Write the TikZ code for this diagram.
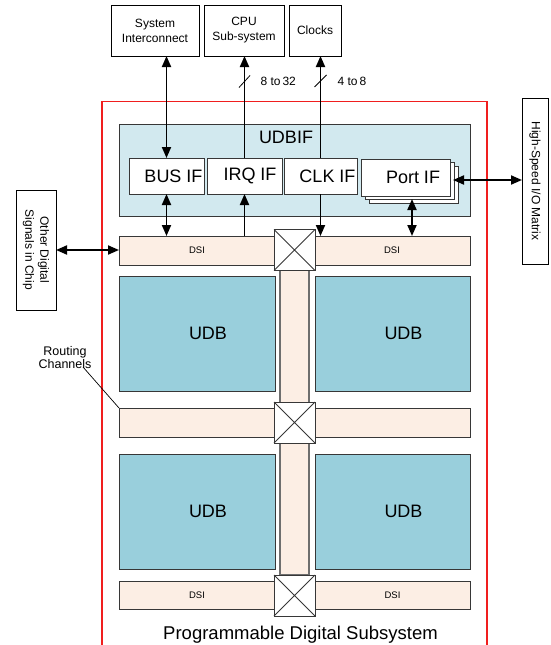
\documentclass[tikz,border=0pt]{standalone}
\usepackage{fontspec}
\setmainfont{Liberation Sans}
\usetikzlibrary{arrows.meta,calc}
\definecolor{udbifblue}{RGB}{210,233,239}
\definecolor{udbblue}{RGB}{153,207,220}
\definecolor{peach}{RGB}{252,238,228}
\definecolor{edgegray}{RGB}{55,55,55}
\definecolor{chanedge}{RGB}{110,110,110}
\definecolor{frame}{RGB}{240,30,30}
\begin{document}
\begin{tikzpicture}[x=1pt,y=-1pt,
  box/.style={draw=edgegray,line width=1pt,fill=white,rectangle,inner sep=0pt,outer sep=0pt},
  extbox/.style={box,draw=black},
  small/.style={font=\fontsize{12}{15}\selectfont,align=center},
  big/.style={font=\fontsize{18}{20}\selectfont},
  ifbox/.style={box,big},
  udbbox/.style={box,fill=udbblue,big},
  dsibar/.style={box,fill=peach,font=\fontsize{9.5}{11}\selectfont},
  xbox/.style={box,minimum width=41pt,minimum height=41pt},
  arr/.style={line width=1.9pt,-{Triangle[length=11pt,width=9pt]}},
  darr/.style={line width=1.9pt,{Triangle[length=11pt,width=9pt]}-{Triangle[length=11pt,width=9pt]}}
]
\useasboundingbox (0,0) rectangle (550,645);

% red frame
\draw[frame,line width=1.2pt] (102,645) -- (102,101.5) -- (487,101.5) -- (487,645);

% top external boxes
\node[extbox,small,minimum width=88pt,minimum height=51pt] (sysint) at (155,30.5) {System\\Interconnect};
\node[extbox,small,minimum width=80pt,minimum height=51pt] (cpu) at (244,30.5) {CPU\\Sub-system};
\node[extbox,small,minimum width=52pt,minimum height=51pt] (clocks) at (315,30.5) {Clocks};

% side external boxes
\node[extbox,minimum width=40pt,minimum height=120pt] (other) at (36,250) {};
\node[small,rotate=-90] (othertxt) at (other.center) {Other Digital\\Signals in Chip};
\node[extbox,minimum width=26pt,minimum height=166pt] (hsio) at (535,181) {};
\node[small,rotate=-90] (hsiotxt) at (hsio.center) {High-Speed I/O Matrix};

% UDBIF
\node[box,fill=udbifblue,minimum width=351pt,minimum height=92pt] (udbif) at (294.5,170) {};
\node[big] (udbiftxt) at (286,137) {UDBIF};
\node[ifbox,minimum width=75pt,minimum height=36pt] (busif) at (166.5,176) {\hspace*{14pt}BUS IF};
\node[ifbox,minimum width=75pt,minimum height=36pt] (irqif) at (244.5,176) {\hspace*{11pt}IRQ IF};
\node[ifbox,minimum width=73pt,minimum height=36pt] (clkif) at (320.5,176) {\hspace*{14pt}CLK IF};
\node[box,minimum width=89pt,minimum height=37pt] (port3) at (413.5,184.5) {};
\node[box,minimum width=89pt,minimum height=37pt] (port2) at (409.5,181) {};
\node[ifbox,minimum width=89pt,minimum height=37pt] (portif) at (405.5,177.5) {\hspace*{15pt}Port IF};

% vertical channel
\node[box,fill=peach,draw=chanedge,line width=1.8pt,minimum width=29pt,minimum height=305pt] (vchan) at (294.5,422.5) {};

% DSI and routing bars
\node[dsibar,minimum width=156pt,minimum height=29pt] (dsiTL) at (197,250.5) {DSI};
\node[dsibar,minimum width=156pt,minimum height=29pt] (dsiTR) at (392,250.5) {DSI};
\node[dsibar,minimum width=156pt,minimum height=29pt] (rcL) at (197,422.5) {};
\node[dsibar,minimum width=155pt,minimum height=29pt] (rcR) at (392.5,422.5) {};
\node[dsibar,minimum width=156pt,minimum height=28pt] (dsiBL) at (197,595) {DSI};
\node[dsibar,minimum width=155pt,minimum height=28pt] (dsiBR) at (392.5,595) {DSI};

% UDBs
\node[udbbox,minimum width=156pt,minimum height=115pt] (udbTL) at (197,333.5) {\hspace*{22pt}UDB};
\node[udbbox,minimum width=155pt,minimum height=115pt] (udbTR) at (392.5,333.5) {\hspace*{22pt}UDB};
\node[udbbox,minimum width=156pt,minimum height=115pt] (udbBL) at (197,511.5) {\hspace*{22pt}UDB};
\node[udbbox,minimum width=155pt,minimum height=115pt] (udbBR) at (392.5,511.5) {\hspace*{22pt}UDB};

% cross boxes
\foreach \n/\y in {crossT/250,crossM/422.5,crossB/595.5}{
  \node[xbox] (\n) at (294.5,\y) {};
  \draw[edgegray,line width=0.9pt] (\n.north west) -- (\n.south east) (\n.north east) -- (\n.south west);
}

% connectors
\draw[darr] (sysint.south -| busif.north) -- (busif.north);
\draw[arr] (irqif.north) -- (cpu.south -| irqif.north);
\draw[arr] (clkif.north) -- (clocks.south -| clkif.north);
\draw[darr] (busif.south) -- (busif.south |- dsiTL.north);
\draw[arr] (irqif.south |- dsiTL.north) -- (irqif.south);
\draw[arr] (clkif.south) -- (clkif.south |- dsiTR.north);
\coordinate (portbot) at ($(portif.south)+(6.5,3)$);
\draw[darr] (portbot) -- (portbot |- dsiTR.north);
\coordinate (portright) at (453,180);
\draw[darr] (portright) -- (portright -| hsio.west);
\draw[darr] (other.east) -- (other.east -| dsiTL.west);

% bus width marks
\draw[line width=0.8pt] ($(irqif.north |- 0,81.5)+(-5.5,6)$) -- ++(11,-12);
\draw[line width=0.8pt] ($(clkif.north |- 0,81)+(-6,6)$) -- ++(12,-12);
\node[small,anchor=west] (w1) at (257,81) {8 to\,32};
\node[small,anchor=west] (w2) at (334,81) {4 to\,8};

% routing channels label
\node[font=\fontsize{12.5}{13.5}\selectfont,align=center] (rlabel) at (65,357.5) {Routing\\Channels};
\coordinate (rtail) at (83,367);
\draw[line width=0.7pt] (rtail) -- (rcL.north west);

% title
\node[font=\fontsize{18.5}{20}\selectfont,anchor=base] (title) at (300.5,639) {Programmable Digital Subsystem};
\end{tikzpicture}
\end{document}
